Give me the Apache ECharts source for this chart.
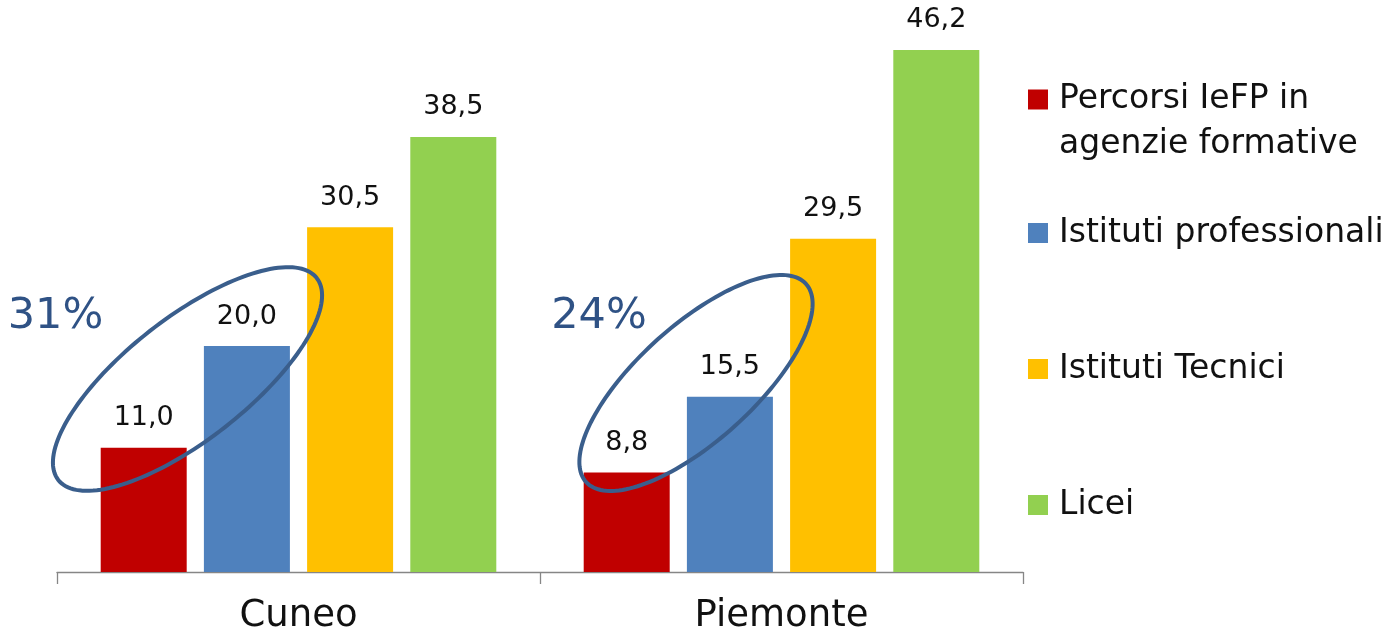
<!DOCTYPE html>
<html><head><meta charset="utf-8">
<script src="https://cdn.jsdelivr.net/npm/echarts@6/dist/echarts.min.js"></script>
<style>html,body{margin:0;padding:0;background:#fff}#c{width:1391px;height:633px}</style>
</head><body><div id="c"></div>
<script>
// ---- data ----
const categories = ['Cuneo', 'Piemonte'];
const seriesNames = ['Percorsi IeFP in agenzie formative', 'Istituti professionali', 'Istituti Tecnici', 'Licei'];
const valuesIeFP = [11.0, 8.8];
const valuesProfessionali = [20.0, 15.5];
const valuesTecnici = [30.5, 29.5];
const valuesLicei = [38.5, 46.2];
const shareLabels = ['31%', '24%'];

// ---- styles ----
const colors = ['#C00000', '#4F81BD', '#FFC000', '#92D050'];
const FONT = 'DejaVu Sans';
const seriesValues = [valuesIeFP, valuesProfessionali, valuesTecnici, valuesLicei];

const chart = echarts.init(document.getElementById('c'), null, {renderer: 'canvas'});

const legendTops = [32, 213, 349, 485];
const legends = seriesNames.map((n, i) => {
  const first = i === 0;
  return {
    data: [n],
    left: 1028,
    top: legendTops[i],
    padding: 0,
    itemWidth: 20,
    itemHeight: 20,
    icon: 'rect',
    selectedMode: false,
    formatter: first ? () => ' \nPercorsi IeFP in\nagenzie formative' : '{name}',
    textStyle: {
      fontFamily: FONT, fontSize: 33, color: '#111',
      lineHeight: first ? 45 : 40,
      padding: [0, 0, 0, 6]
    }
  };
});

chart.setOption({
  animation: false,
  color: colors,
  grid: {left: 57, right: 368, top: 7, bottom: 61, outerBoundsMode: 'none', containLabel: false},
  legend: legends,
  xAxis: {
    type: 'category',
    data: categories,
    axisLine: {lineStyle: {color: '#868686', width: 1.3}},
    axisTick: {show: true, length: 12, lineStyle: {color: '#868686', width: 1.3}},
    axisLabel: {fontFamily: FONT, fontSize: 37, color: '#111', margin: 26}
  },
  yAxis: {type: 'value', min: 0, max: 50, show: false, splitLine: {show: false}},
  series: seriesNames.map((n, i) => ({
    name: n,
    type: 'bar',
    data: seriesValues[i],
    barWidth: 86,
    barGap: '20%',
    itemStyle: {color: colors[i]},
    label: {
      show: true, position: 'top', distance: 16,
      fontFamily: FONT, fontSize: 27, color: '#111',
      formatter: p => p.value.toFixed(1).replace('.', ',')
    }
  }))
});

// ---- annotations (ellipses around first two bars + share label) ----
const ellipseGeom = [
  {dx: -111, v: 17.08, rx: 164, ry: 61, angle: 38},
  {dx: -85.5, v: 16.73, rx: 148, ry: 58, angle: 42}
];
const shareGeom = [
  {dx: -243, v: 22.6},
  {dx: -182.5, v: 22.6}
];
const graphics = [];
categories.forEach((c, i) => {
  const e = ellipseGeom[i];
  const p = chart.convertToPixel({xAxisIndex: 0, yAxisIndex: 0}, [c, e.v]);
  const pts = [];
  const th = -e.angle * Math.PI / 180;
  for (let k = 0; k < 160; k++) {
    const t = k / 160 * Math.PI * 2;
    const x = e.rx * Math.cos(t), y = e.ry * Math.sin(t);
    pts.push([p[0] + e.dx + x * Math.cos(th) - y * Math.sin(th), p[1] + x * Math.sin(th) + y * Math.cos(th)]);
  }
  graphics.push({
    type: 'polygon', z: 100, silent: true,
    shape: {points: pts},
    style: {fill: 'none', stroke: '#3A5E8C', lineWidth: 4}
  });
  const s = shareGeom[i];
  const q = chart.convertToPixel({xAxisIndex: 0, yAxisIndex: 0}, [c, s.v]);
  graphics.push({
    type: 'text', z: 100, silent: true,
    x: q[0] + s.dx, y: q[1],
    style: {text: shareLabels[i], fontFamily: FONT, fontSize: 43, fill: '#2F5285', align: 'center', verticalAlign: 'middle'}
  });
});
chart.setOption({graphic: graphics});
</script></body></html>
